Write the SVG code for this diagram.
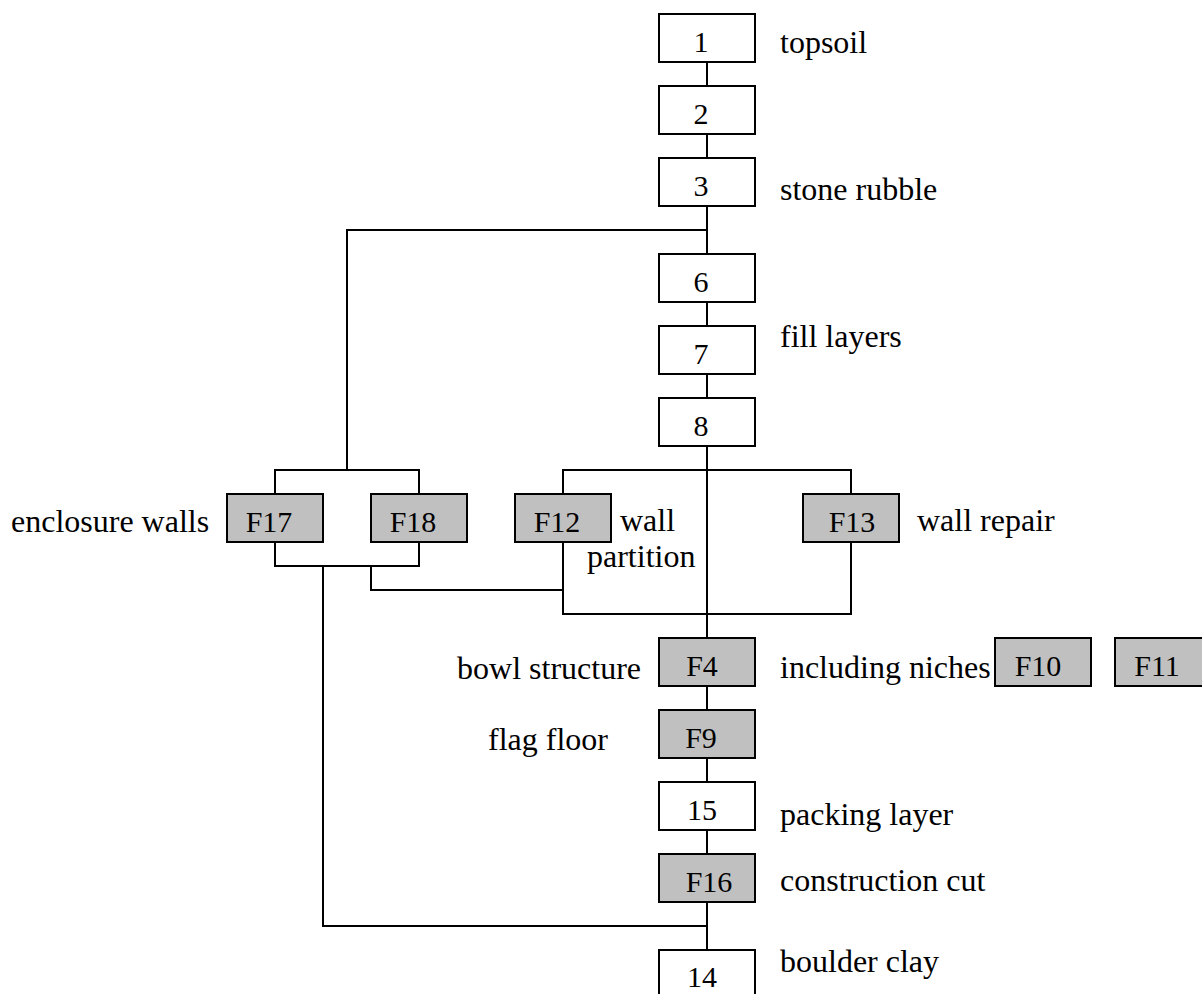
<svg xmlns="http://www.w3.org/2000/svg" width="1202" height="994" viewBox="0 0 1202 994">
<style>
.b{fill:#ffffff;stroke:#000;stroke-width:2}
.g{fill:#c0c0c0;stroke:#000;stroke-width:2}
.t{font-family:"Liberation Serif","Times New Roman",serif;font-size:30px;fill:#000;text-anchor:middle}
.l{font-family:"Liberation Serif","Times New Roman",serif;font-size:32px;fill:#000}
.c{fill:none;stroke:#000;stroke-width:2}
</style>
<rect width="1202" height="994" fill="#fff"/>
<g id="connectors" class="c">
<path d="M707 62V86M707 134V158M707 206V254M707 302V326M707 374V398M707 446V638M707 686V710M707 758V782M707 830V854M707 902V950"/>
<path d="M707 230H347V470"/>
<path d="M275 494V470H419V494"/>
<path d="M275 542V566H419V542"/>
<path d="M323 566V926H707"/>
<path d="M371 566V590H563"/>
<path d="M563 494V470H851V494"/>
<path d="M563 542V614H851V542"/>
</g>
<g id="n1"><rect class="b" x="659" y="14" width="96" height="48"/><text class="t" x="701" y="52">1</text></g>
<g id="n2"><rect class="b" x="659" y="86" width="96" height="48"/><text class="t" x="701" y="124">2</text></g>
<g id="n3"><rect class="b" x="659" y="158" width="96" height="48"/><text class="t" x="701" y="196">3</text></g>
<g id="n6"><rect class="b" x="659" y="254" width="96" height="48"/><text class="t" x="701" y="292">6</text></g>
<g id="n7"><rect class="b" x="659" y="326" width="96" height="48"/><text class="t" x="701" y="364">7</text></g>
<g id="n8"><rect class="b" x="659" y="398" width="96" height="48"/><text class="t" x="701" y="436">8</text></g>
<g id="nF17"><rect class="g" x="227" y="494" width="96" height="48"/><text class="t" x="269" y="532">F17</text></g>
<g id="nF18"><rect class="g" x="371" y="494" width="96" height="48"/><text class="t" x="413" y="532">F18</text></g>
<g id="nF12"><rect class="g" x="515" y="494" width="96" height="48"/><text class="t" x="557" y="532">F12</text></g>
<g id="nF13"><rect class="g" x="803" y="494" width="96" height="48"/><text class="t" x="852" y="532">F13</text></g>
<g id="nF4"><rect class="g" x="659" y="638" width="96" height="48"/><text class="t" x="702" y="676">F4</text></g>
<g id="nF10"><rect class="g" x="995" y="638" width="96" height="48"/><text class="t" x="1038" y="676">F10</text></g>
<g id="nF11"><rect class="g" x="1115" y="638" width="96" height="48"/><text class="t" x="1157" y="676">F11</text></g>
<g id="nF9"><rect class="g" x="659" y="710" width="96" height="48"/><text class="t" x="701" y="748">F9</text></g>
<g id="n15"><rect class="b" x="659" y="782" width="96" height="48"/><text class="t" x="702" y="820">15</text></g>
<g id="nF16"><rect class="g" x="659" y="854" width="96" height="48"/><text class="t" x="709" y="892">F16</text></g>
<g id="n14"><rect class="b" x="659" y="950" width="96" height="48"/><text class="t" x="702" y="987">14</text></g>
<g id="labels">
<text class="l" x="780" y="53">topsoil</text>
<text class="l" x="780" y="200">stone rubble</text>
<text class="l" x="780" y="347">fill layers</text>
<text class="l" x="11" y="532">enclosure walls</text>
<text class="l" x="620" y="531">wall</text>
<text class="l" x="587" y="567">partition</text>
<text class="l" x="917" y="531">wall repair</text>
<text class="l" x="641" y="679" text-anchor="end">bowl structure</text>
<text class="l" x="780" y="678">including niches</text>
<text class="l" x="608" y="750" text-anchor="end">flag floor</text>
<text class="l" x="780" y="825">packing layer</text>
<text class="l" x="780" y="891">construction cut</text>
<text class="l" x="780" y="972">boulder clay</text>
</g>
</svg>
